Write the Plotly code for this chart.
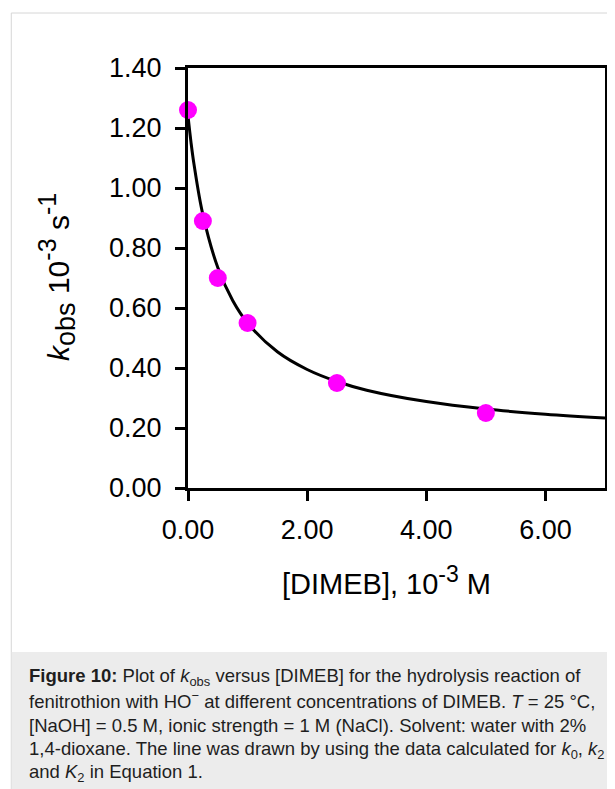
import plotly.graph_objects as go

# Data
dimeb = [0.0, 0.25, 0.5, 1.0, 2.5, 5.0]          # [DIMEB], 10^-3 M
kobs = [1.26, 0.89, 0.70, 0.55, 0.35, 0.25]      # k_obs, 10^-3 s^-1

# Fitted line
fit_x = [0.0, 0.05, 0.1, 0.25, 0.5, 0.75, 1.0, 1.5, 2.0, 2.5, 3.0, 4.0, 5.0, 6.0, 7.0]
fit_y = [1.24, 1.153, 1.080, 0.911, 0.735, 0.625, 0.55, 0.454, 0.395, 0.355, 0.326, 0.288, 0.263, 0.246, 0.233]

x_ticks = [0, 2, 4, 6]
x_ticklabels = ["0.00", "2.00", "4.00", "6.00"]
y_ticks = [0, 0.2, 0.4, 0.6, 0.8, 1.0, 1.2, 1.4]
y_ticklabels = ["0.00", "0.20", "0.40", "0.60", "0.80", "1.00", "1.20", "1.40"]

caption_lines = [
    "<b>Figure 10:</b> Plot of <i>k</i><sub>obs</sub> versus [DIMEB] for the hydrolysis reaction of",
    "fenitrothion with HO<sup>\u2212</sup> at different concentrations of DIMEB. <i>T</i> = 25 °C,",
    "[NaOH] = 0.5 M, ionic strength = 1 M (NaCl). Solvent: water with 2%",
    "1,4-dioxane. The line was drawn by using the data calculated for <i>k</i><sub>0</sub>, <i>k</i><sub>2</sub>",
    "and <i>K</i><sub>2</sub> in Equation 1.",
]

# The page body has an 8px margin: work in window pixels, convert to figure pixels.
OFF = 8
W, H = 615 - OFF, 789 - OFF
L, R, T, B = 188 - OFF, 608 - OFF, 68 - OFF, 488 - OFF  # plot area (figure px)
pw, ph = R - L, B - T

def px(xw):
    return (xw - OFF - L) / pw

def py(yw):
    return (B - (yw - OFF)) / ph

fig = go.Figure()
fig.add_trace(go.Scatter(
    x=fit_x, y=fit_y, mode="lines", line=dict(color="black", width=3, shape="spline"),
    hoverinfo="skip", showlegend=False,
))
fig.add_trace(go.Scatter(
    x=dimeb, y=kobs, mode="markers", marker=dict(color="#ff00ff", size=18, line=dict(width=0)),
    showlegend=False, cliponaxis=False,
))

font_main = "Liberation Sans, Arial, sans-serif"

axis_common = dict(
    showgrid=False, zeroline=False, showline=True, linecolor="black", linewidth=3,
    mirror=True, ticks="outside", ticklen=10, tickwidth=3, tickcolor="black",
    tickfont=dict(size=27, family=font_main, color="black"),
)

fig.update_layout(
    width=W, height=H,
    margin=dict(l=L, r=W - R, t=T, b=H - B, pad=0),
    paper_bgcolor="white", plot_bgcolor="white",
    font=dict(family=font_main, color="black"),
    xaxis=dict(range=[0, 7], tickvals=x_ticks, ticktext=x_ticklabels,
               ticklabelstandoff=6, **axis_common),
    yaxis=dict(range=[0, 1.4], tickvals=y_ticks, ticktext=y_ticklabels,
               ticklabelstandoff=8, **axis_common),
    shapes=[
        dict(type="rect", xref="paper", yref="paper",
             x0=px(10), x1=px(650), y0=py(830), y1=py(13),
             line=dict(color="#d6d6d6", width=1), fillcolor="rgba(0,0,0,0)", layer="below"),
        dict(type="rect", xref="paper", yref="paper",
             x0=px(10.5), x1=px(650), y0=py(830), y1=py(652),
             line=dict(width=0), fillcolor="#ececec", layer="below"),
    ],
)

annotations = [
    dict(text='[DIMEB], 10<sup><span style="font-size:23px">-3</span></sup> M',
         x=px(388), y=py(580), xref="paper", yref="paper",
         showarrow=False, xanchor="center", yanchor="middle",
         font=dict(size=29, family=font_main, color="black")),
    dict(text='<i>k</i><sub><span style="font-size:27px">obs</span></sub> 10'
              '<sup><span style="font-size:25px">-3</span></sup> s'
              '<sup><span style="font-size:25px">-1</span></sup>',
         x=px(56), y=py(277),
         xref="paper", yref="paper", showarrow=False, textangle=-90,
         xanchor="center", yanchor="middle",
         font=dict(size=30, family=font_main, color="black")),
]
line_y = [677, 699.5, 725, 750, 773]
for txt, yy in zip(caption_lines, line_y):
    annotations.append(dict(
        text=txt, x=px(26), y=py(yy), xref="paper", yref="paper", showarrow=False,
        xanchor="left", yanchor="middle", align="left",
        font=dict(size=18.5, family=font_main, color="#1e1e1e"),
    ))
fig.update_layout(annotations=annotations)

fig.write_html("out.html")
